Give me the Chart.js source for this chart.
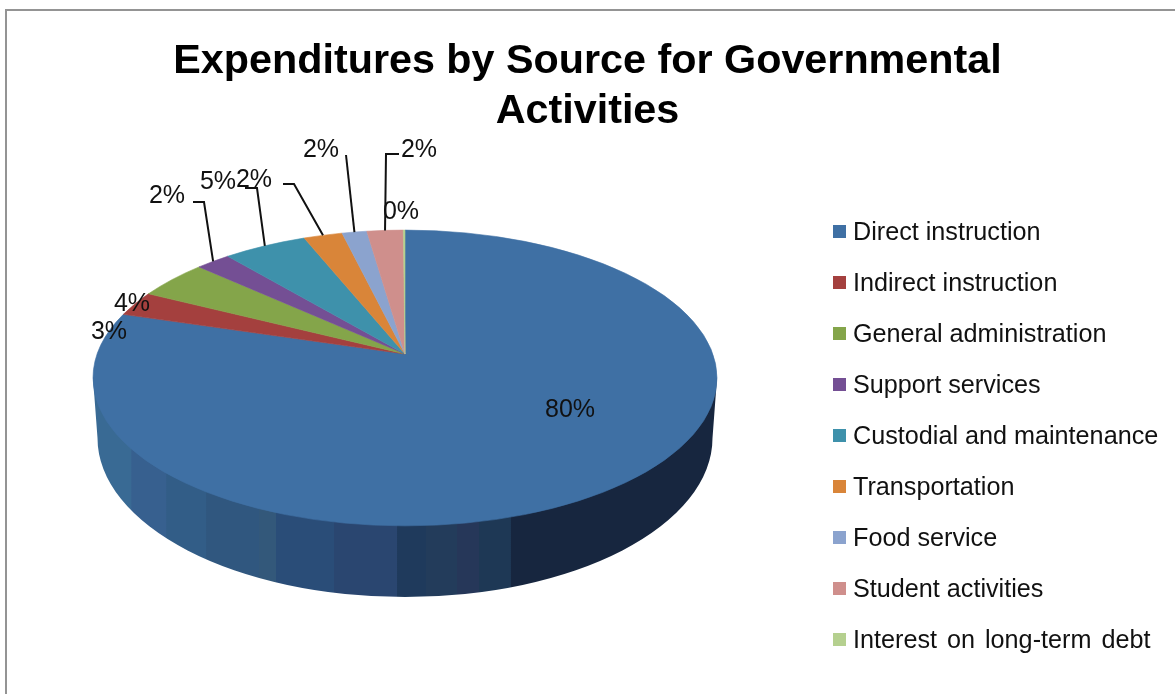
<!DOCTYPE html>
<html>
<head>
<meta charset="utf-8">
<title>Expenditures by Source for Governmental Activities</title>
<script src="https://cdn.jsdelivr.net/npm/chart.js@4/dist/chart.umd.min.js"></script>
<style>
  html, body { margin: 0; background: #fff; overflow: hidden; }
  #wrap { position: relative; width: 1175px; height: 694px; font-family: "Liberation Sans", Arial, sans-serif; color: #111; }
  #frame { position: absolute; left: 5px; top: 9px; width: 1300px; height: 800px; border: 2px solid #949494; }
  #chart { position: absolute; left: 0; top: 0; }
  #legend { position: absolute; left: 833px; top: 205.5px; }
  #legend div { position: relative; height: 51px; line-height: 51px; font-size: 25.2px; padding-left: 20px; white-space: nowrap; }
  #legend i { position: absolute; left: 0; top: 19px; width: 13px; height: 13px; }
</style>
</head>
<body>
<div id="wrap">
  <div id="frame"></div>
  <canvas id="chart" width="1175" height="694"></canvas>
  <div id="legend"></div>
</div>
<script>
const categories = ['Direct instruction', 'Indirect instruction', 'General administration', 'Support services',
  'Custodial and maintenance', 'Transportation', 'Food service', 'Student activities', 'Interest on long-term debt'];
const shares = [79.65, 2.75, 4.3, 2.1, 5.05, 2.35, 1.5, 2.2, 0.1];
const colors = ['#3f70a4', '#a4403e', '#84a54a', '#744f94', '#3e91ab', '#d98539', '#8ba3ce', '#cf8f8c', '#b5d08f'];
const titleLines = ['Expenditures by Source for Governmental', 'Activities'];

// stripes on the side wall, left to right (fraction of the width, colour)
const wallStripes = [[0, '#396a94'], [0.062, '#37608f'], [0.118, '#325d87'], [0.182, '#30577f'], [0.267, '#33587a'],
  [0.294, '#2a4d78'], [0.387, '#2a4670'], [0.488, '#1f3a5c'], [0.534, '#233c5b'], [0.584, '#263759'],
  [0.619, '#1e3855'], [0.67, '#17263f']];

// the pie is tilted: rim is an ellipse and the centre sits above the ellipse centre
const TILT = 0.474;
const APEX_SHIFT = 24;
const WALL_DROP = 60;

function tilted(el) {
  const rx = el.outerRadius;
  const ry = rx * TILT;
  const cy = el.y + APEX_SHIFT;
  return { rx, ry, cy, d: APEX_SHIFT / ry };
}

// library angle -> angle on the rim ellipse (projective, keeps slices straight through the apex)
function rimAngle(angle, d) {
  const u = Math.cos(angle);
  const v = Math.sin(angle);
  const k = 1 - d * v;
  return Math.atan2((v - d) / k, u * Math.sqrt(1 - d * d) / k);
}

function rimPoint(el, angle) {
  const t = tilted(el);
  const a = rimAngle(angle, t.d);
  return { x: el.x + t.rx * Math.cos(a), y: t.cy + t.ry * Math.sin(a) };
}

function drawTiltedArc(ctx) {
  const t = tilted(this);
  const a0 = rimAngle(this.startAngle, t.d);
  const a1 = rimAngle(this.endAngle, t.d);
  ctx.save();
  ctx.beginPath();
  ctx.moveTo(this.x, this.y);
  ctx.ellipse(this.x, t.cy, t.rx, t.ry, 0, a0, a1);
  ctx.closePath();
  ctx.fillStyle = this.options.backgroundColor;
  ctx.strokeStyle = this.options.backgroundColor;
  ctx.lineWidth = 0.6;
  ctx.fill();
  ctx.stroke();
  ctx.restore();
}

const tiltPlugin = {
  id: 'tilt',
  afterLayout(chart) {
    // title spans the whole canvas, the right padding is only there for the pie
    chart.titleBlock.left = 0;
    chart.titleBlock.right = chart.width;
  },
  afterDatasetsUpdate(chart) {
    chart.getDatasetMeta(0).data.forEach(el => { el.draw = drawTiltedArc; });
  },
  beforeDatasetsDraw(chart) {
    const el = chart.getDatasetMeta(0).data[0];
    const t = tilted(el);
    const ctx = chart.ctx;
    const g = ctx.createLinearGradient(el.x - t.rx, 0, el.x + t.rx, 0);
    wallStripes.forEach((s, i) => {
      g.addColorStop(s[0], s[1]);
      const next = wallStripes[i + 1];
      g.addColorStop(next ? next[0] - 0.001 : 1, s[1]);
    });
    const by = t.cy + WALL_DROP;
    ctx.save();
    ctx.beginPath();
    ctx.moveTo(el.x + t.rx, t.cy);
    ctx.lineTo(el.x + t.rx - 4.5, by);
    ctx.ellipse(el.x, by, t.rx - 4.5, 159, 0, 0, Math.PI);
    ctx.lineTo(el.x - t.rx, t.cy);
    ctx.closePath();
    ctx.fillStyle = g;
    ctx.fill();
    ctx.restore();
  }
};

// hand placed data labels, as in the original chart; leader = start of the leader line
const labelSpots = [
  { x: 570, y: 410 },
  { x: 109, y: 332 },
  { x: 132, y: 304 },
  { x: 167, y: 196, leader: [[193, 202], [204, 202]] },
  { x: 218, y: 182, leader: [[245, 188], [257, 188]] },
  { x: 254, y: 180, leader: [[283, 184], [294, 184]] },
  { x: 321, y: 150, leader: [[346, 155]] },
  { x: 419, y: 150, leader: [[399, 154], [386, 154]] },
  { x: 401, y: 212 }
];

const labelPlugin = {
  id: 'pieLabels',
  afterDatasetsDraw(chart) {
    const ctx = chart.ctx;
    const els = chart.getDatasetMeta(0).data;
    const total = shares.reduce((a, b) => a + b, 0);
    ctx.save();
    ctx.strokeStyle = '#111';
    ctx.lineWidth = 2;
    labelSpots.forEach((spot, i) => {
      if (!spot.leader) return;
      const end = rimPoint(els[i], (els[i].startAngle + els[i].endAngle) / 2);
      ctx.beginPath();
      spot.leader.forEach((p, j) => (j ? ctx.lineTo(p[0], p[1]) : ctx.moveTo(p[0], p[1])));
      ctx.lineTo(end.x, end.y);
      ctx.stroke();
    });
    ctx.fillStyle = '#111';
    ctx.font = '25px "Liberation Sans", Arial, sans-serif';
    ctx.textAlign = 'center';
    ctx.textBaseline = 'middle';
    labelSpots.forEach((spot, i) => {
      ctx.fillText(Math.round(shares[i] / total * 100) + '%', spot.x, spot.y);
    });
    ctx.restore();
  }
};

new Chart(document.getElementById('chart'), {
  type: 'pie',
  data: {
    labels: categories,
    datasets: [{ data: shares, backgroundColor: colors, borderWidth: 0 }]
  },
  options: {
    responsive: false,
    devicePixelRatio: 1,
    animation: false,
    radius: 312,
    layout: { padding: { right: 365, bottom: 122.8 } },
    plugins: {
      legend: { display: false },
      tooltip: { enabled: false },
      title: {
        display: true,
        text: titleLines,
        color: '#000',
        font: { family: '"Liberation Sans", Arial, sans-serif', size: 41.3, weight: 'bold', lineHeight: 1.22 },
        padding: { top: 36, bottom: 0 }
      }
    }
  },
  plugins: [tiltPlugin, labelPlugin]
});

// legend as plain html so the rows sit where they do in the original
const legendBox = document.getElementById('legend');
categories.forEach((name, i) => {
  const row = document.createElement('div');
  const box = document.createElement('i');
  box.style.background = colors[i];
  row.appendChild(box);
  row.appendChild(document.createTextNode(name));
  if (i === categories.length - 1) row.style.wordSpacing = '3px';
  legendBox.appendChild(row);
});
</script>
</body>
</html>
